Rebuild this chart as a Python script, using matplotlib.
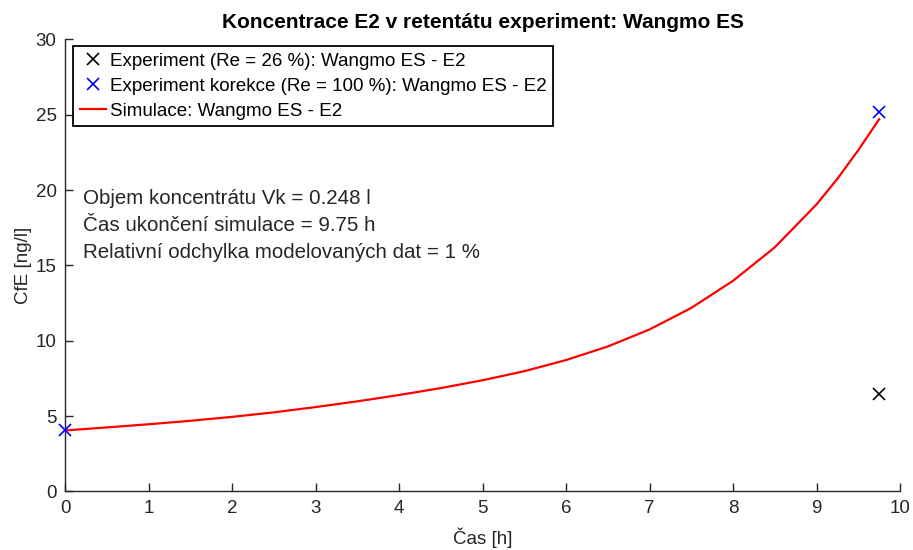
import matplotlib
matplotlib.use("Agg")
import matplotlib.pyplot as plt

plt.rcParams['font.family'] = ['Liberation Sans', 'DejaVu Sans']

# Simulated retentate concentration (time [h], CfE [ng/l])
sim_t = [0.0, 0.5, 1.0, 1.5, 2.0, 2.5, 3.0, 3.5, 4.0, 4.5, 5.0, 5.5,
         6.0, 6.5, 7.0, 7.5, 8.0, 8.5, 9.0, 9.25, 9.5, 9.75]
sim_c = [4.05, 4.25, 4.46, 4.69, 4.95, 5.25, 5.60, 5.98, 6.40, 6.86, 7.38, 7.98,
         8.72, 9.62, 10.75, 12.18, 13.98, 16.20, 19.05, 20.75, 22.65, 24.70]

# Measured points
exp_t = [9.75]
exp_c = [6.5]
corr_t = [0.0, 9.75]
corr_c = [4.05, 25.2]

labels = ["Experiment (Re = 26 %): Wangmo ES - E2",
          "Experiment korekce (Re = 100 %): Wangmo ES - E2",
          "Simulace: Wangmo ES - E2"]
info_lines = ["Objem koncentrátu Vk = 0.248 l",
              "Čas ukončení simulace = 9.75 h",
              "Relativní odchylka modelovaných dat = 1 %"]
x_ticks = list(range(0, 11))
y_ticks = list(range(0, 31, 5))

axis_col = "#262626"

fig = plt.figure(figsize=(9.13, 5.5), dpi=100)
ax = fig.add_axes([0.0712, 0.1064, 0.9146, 0.822])

h1, = ax.plot(exp_t, exp_c, linestyle="none", marker="x", color="black",
              markersize=9, markeredgewidth=1.2, clip_on=False, zorder=4)
h2, = ax.plot(corr_t, corr_c, linestyle="none", marker="x", color="blue",
              markersize=9, markeredgewidth=1.2, clip_on=False, zorder=4)
h3, = ax.plot(sim_t, sim_c, color="red", linewidth=1.6, zorder=3)

ax.set_xlim(0, 10)
ax.set_ylim(0, 30)
ax.set_xticks(x_ticks)
ax.set_yticks(y_ticks)
for s in ("top", "right"):
    ax.spines[s].set_visible(False)
for s in ("left", "bottom"):
    ax.spines[s].set_color(axis_col)
    ax.spines[s].set_linewidth(1.0)
ax.tick_params(direction="in", length=6, width=1.0, colors=axis_col,
               labelsize=13.5, pad=6)

ax.set_xlabel("Čas [h]", fontsize=13.5, color=axis_col, labelpad=8)
ax.set_ylabel("CfE [ng/l]", fontsize=13.5, color=axis_col, labelpad=3)
ax.set_title("Koncentrace E2 v retentátu experiment: Wangmo ES",
             fontsize=15, fontweight="bold", pad=8)

leg = ax.legend([h1, h2, h3], labels, loc="upper left",
                bbox_to_anchor=(0.0096, 0.985), fontsize=13.5, frameon=True,
                fancybox=False, framealpha=1, edgecolor="black",
                borderpad=0.35, labelspacing=0.42, handlelength=1.4,
                handletextpad=0.2, borderaxespad=0)
leg.get_frame().set_linewidth(1.3)

ax.text(0.021, 0.668, "\n".join(info_lines), transform=ax.transAxes,
        fontsize=14.8, va="top", ha="left", color=axis_col, linespacing=1.52)

fig.savefig("out.png", dpi=100)
